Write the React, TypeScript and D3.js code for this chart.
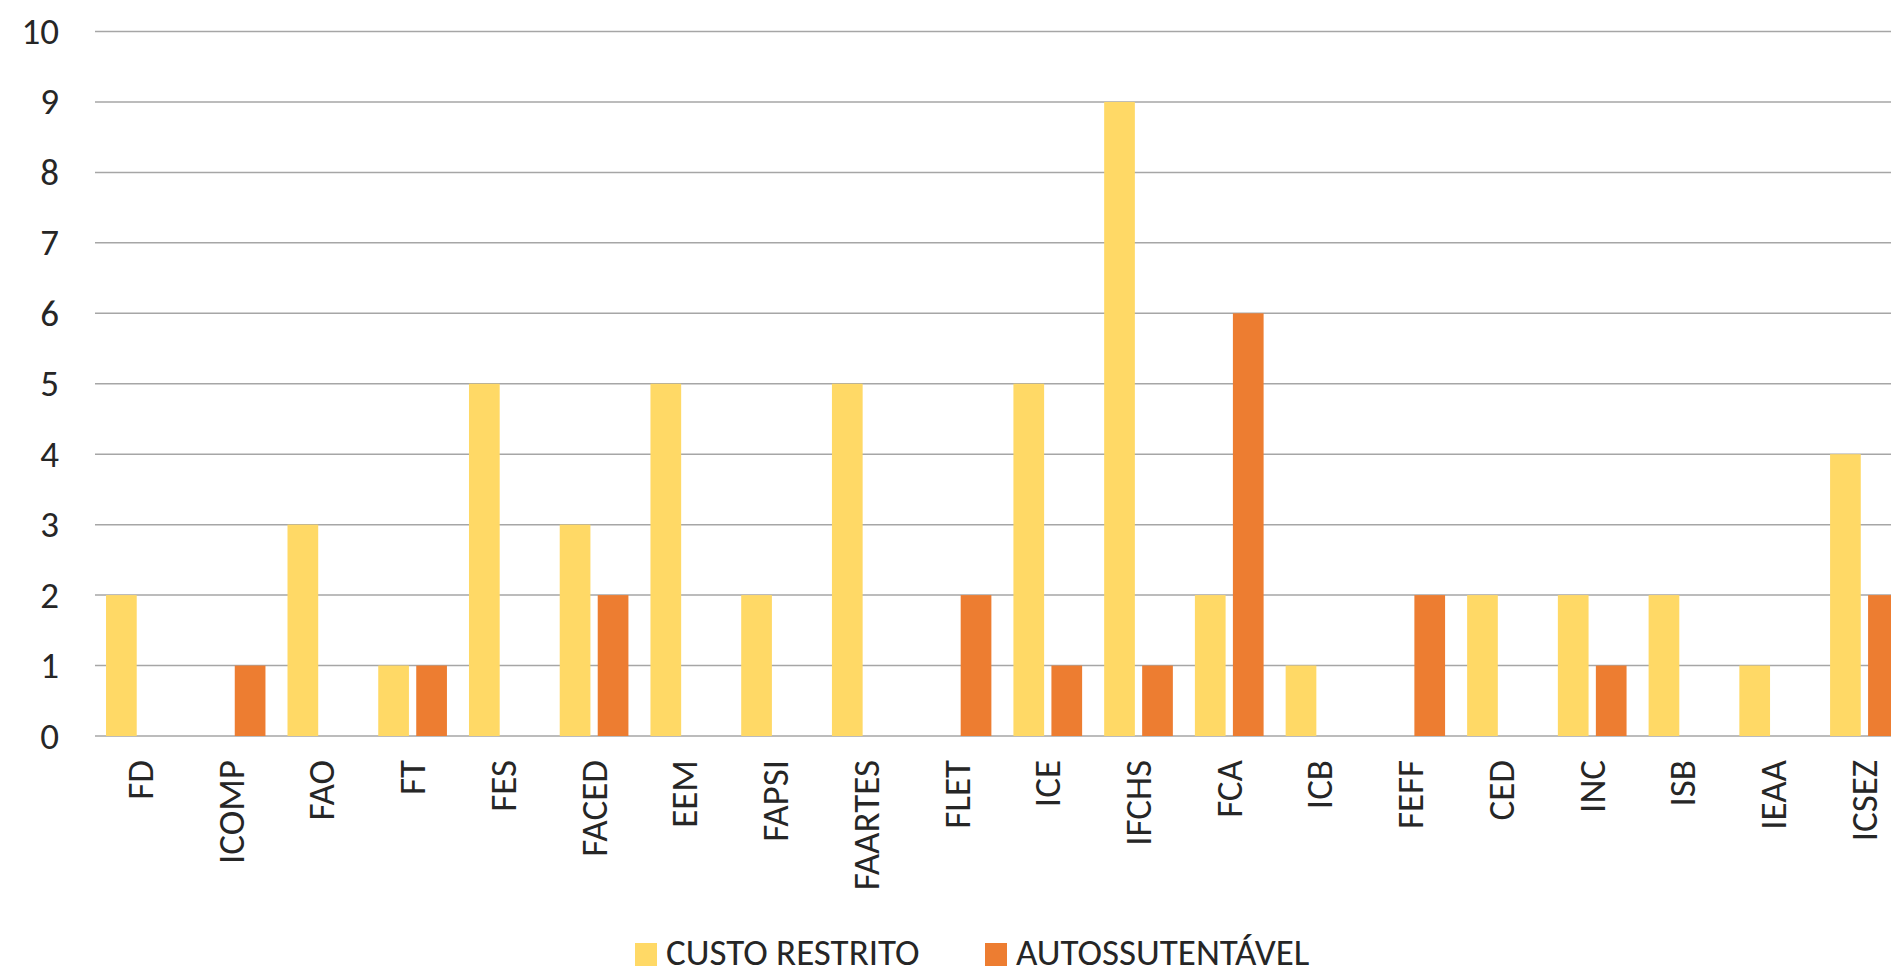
import React from "react";
import * as d3 from "d3";

const categories = ["FD","ICOMP","FAO","FT","FES","FACED","EEM","FAPSI","FAARTES","FLET","ICE","IFCHS","FCA","ICB","FEFF","CED","INC","ISB","IEAA","ICSEZ"];
const custoRestrito = [2,0,3,1,5,3,5,2,5,0,5,9,2,1,0,2,2,2,1,4];
const autossustentavel = [0,1,0,1,0,2,0,0,0,2,1,1,6,0,2,0,1,0,0,2];
const seriesNames = ["CUSTO RESTRITO","AUTOSSUTENTÁVEL"];
const seriesColors = ["#FFD966","#ED7D31"];
const yTicks = [0,1,2,3,4,5,6,7,8,9,10];

const W = 1891, H = 968;
const FONT = "Carlito, Calibri, 'Open Sans', sans-serif";
const FS = 37;

export default function App() {
  const x = d3.scaleBand<string>().domain(categories).range([95, 1909.8]).padding(0);
  const sub = d3.scaleBand<string>().domain(["a","b"]).range([0, x.bandwidth()]).paddingInner(0.192).paddingOuter(0.29);
  const y = d3.scaleLinear().domain([0, 10]).range([736, 31.5]);
  const data = [custoRestrito, autossustentavel];
  const keys = ["a","b"];
  return (
    <svg width={W} height={H} style={{position:"absolute", left:0, top:0, background:"#fff"}} fontFamily={FONT}>
      <rect x={0} y={0} width={W} height={H} fill="#fff" />
      {yTicks.map(t => (
        <g key={t}>
          <line x1={95} x2={W} y1={y(t)} y2={y(t)} stroke="#a6a6a6" strokeWidth={1.5} />
          <text x={59} y={y(t)} textAnchor="end" dominantBaseline="central" fontSize={FS} fill="#262626">{t}</text>
        </g>
      ))}
      {data.map((vals, si) => vals.map((v, i) => v > 0 ? (
        <rect key={si + "-" + i} x={(x(categories[i]) as number) + (sub(keys[si]) as number)} width={sub.bandwidth()}
          y={y(v)} height={y(0) - y(v)} fill={seriesColors[si]} />
      ) : null))}
      {categories.map(c => (
        <text key={c} transform={`translate(${(x(c) as number) + x.bandwidth()/2},760) rotate(-90)`} textAnchor="end"
          dominantBaseline="central" fontSize={FS} fill="#262626">{c}</text>
      ))}
      <g>
        <rect x={635} y={943} width={22} height={23} fill={seriesColors[0]} />
        <text x={666} y={965} fontSize={FS} fill="#262626">{seriesNames[0]}</text>
        <rect x={985} y={943} width={22} height={23} fill={seriesColors[1]} />
        <text x={1016} y={965} fontSize={FS} fill="#262626">{seriesNames[1]}</text>
      </g>
    </svg>
  );
}
